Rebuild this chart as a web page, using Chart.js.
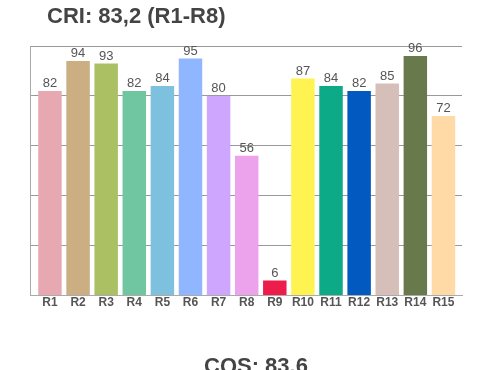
<!DOCTYPE html>
<html>
<head>
<meta charset="utf-8">
<script src="https://cdn.jsdelivr.net/npm/chart.js@4"></script>
<style>
  body { margin: 0; background: #fff; }
  #wrap { position: relative; width: 500px; height: 370px; overflow: hidden; }
  .ttl { position: absolute; font-family: "Liberation Sans", Arial, sans-serif; font-weight: bold; font-size: 22px; color: #444; white-space: nowrap; }
  #t1 { left: 47px; top: 3px; }
  #t2 { left: 204px; top: 353px; }
</style>
</head>
<body>
<div id="wrap">
  <canvas id="myChart" width="500" height="370"></canvas>
  <div class="ttl" id="t1">CRI: 83,2 (R1-R8)</div>
  <div class="ttl" id="t2">CQS: 83.6</div>
</div>
<script>
const labels = ["R1", "R2", "R3", "R4", "R5", "R6", "R7", "R8", "R9", "R10", "R11", "R12", "R13", "R14", "R15"];
const values = [82, 94, 93, 82, 84, 95, 80, 56, 6, 87, 84, 82, 85, 96, 72];
const colors = ["#e8a8b1", "#ccae83", "#abc062", "#6fc6a0", "#7ec1de", "#8fb6fe", "#cfa6fe", "#eda3eb", "#ec1d4b",
    "#fff352", "#0caa86", "#025ac0", "#d6bfb9", "#68794c", "#ffd9a6"];

// the bars sit a bit inside the axis box, with more room on the left
const xPadLeft = 0.71;
const xPadRight = 0.66;

const shiftCategories = {
    id: 'shiftCategories',
    beforeDatasetsUpdate(chart) {
        const x = chart.scales.x;
        x._startValue = -0.5 - (xPadLeft - 0.5);
        x._valueRange = labels.length - 1 + xPadLeft + xPadRight;
    }
};

// draw value above each bar
const valueLabels = {
    id: 'valueLabels',
    afterDatasetsDraw(chart) {
        const ctx = chart.ctx;
        const meta = chart.getDatasetMeta(0);
        ctx.save();
        ctx.font = '13px "Liberation Sans", Arial, sans-serif';
        ctx.fillStyle = '#555';
        ctx.textAlign = 'center';
        ctx.textBaseline = 'bottom';
        meta.data.forEach((bar, i) => {
            ctx.fillText(values[i], bar.x, bar.y - 1);
        });
        ctx.restore();
    }
};

const ctx = document.getElementById('myChart');
new Chart(ctx, {
    type: 'bar',
    data: {
        labels: labels,
        datasets: [{
            data: values,
            backgroundColor: colors,
            borderWidth: 0,
            barPercentage: 1,
            categoryPercentage: 0.835
        }]
    },
    options: {
        responsive: false,
        animation: false,
        layout: { padding: { left: 30, right: 38, top: 46, bottom: 60 } },
        plugins: {
            legend: { display: false },
            tooltip: { enabled: false }
        },
        scales: {
            x: {
                grid: { display: false, drawTicks: false },
                border: { color: '#aaa', width: 1 },
                ticks: {
                    color: '#555',
                    padding: 0,
                    font: { family: '"Liberation Sans", Arial, sans-serif', size: 12, weight: 'bold' }
                }
            },
            y: {
                min: 0,
                max: 100,
                ticks: { display: false, stepSize: 20 },
                grid: { color: '#999', drawTicks: false },
                border: { color: '#aaa', width: 1 }
            }
        }
    },
    plugins: [shiftCategories, valueLabels]
});
</script>
</body>
</html>
